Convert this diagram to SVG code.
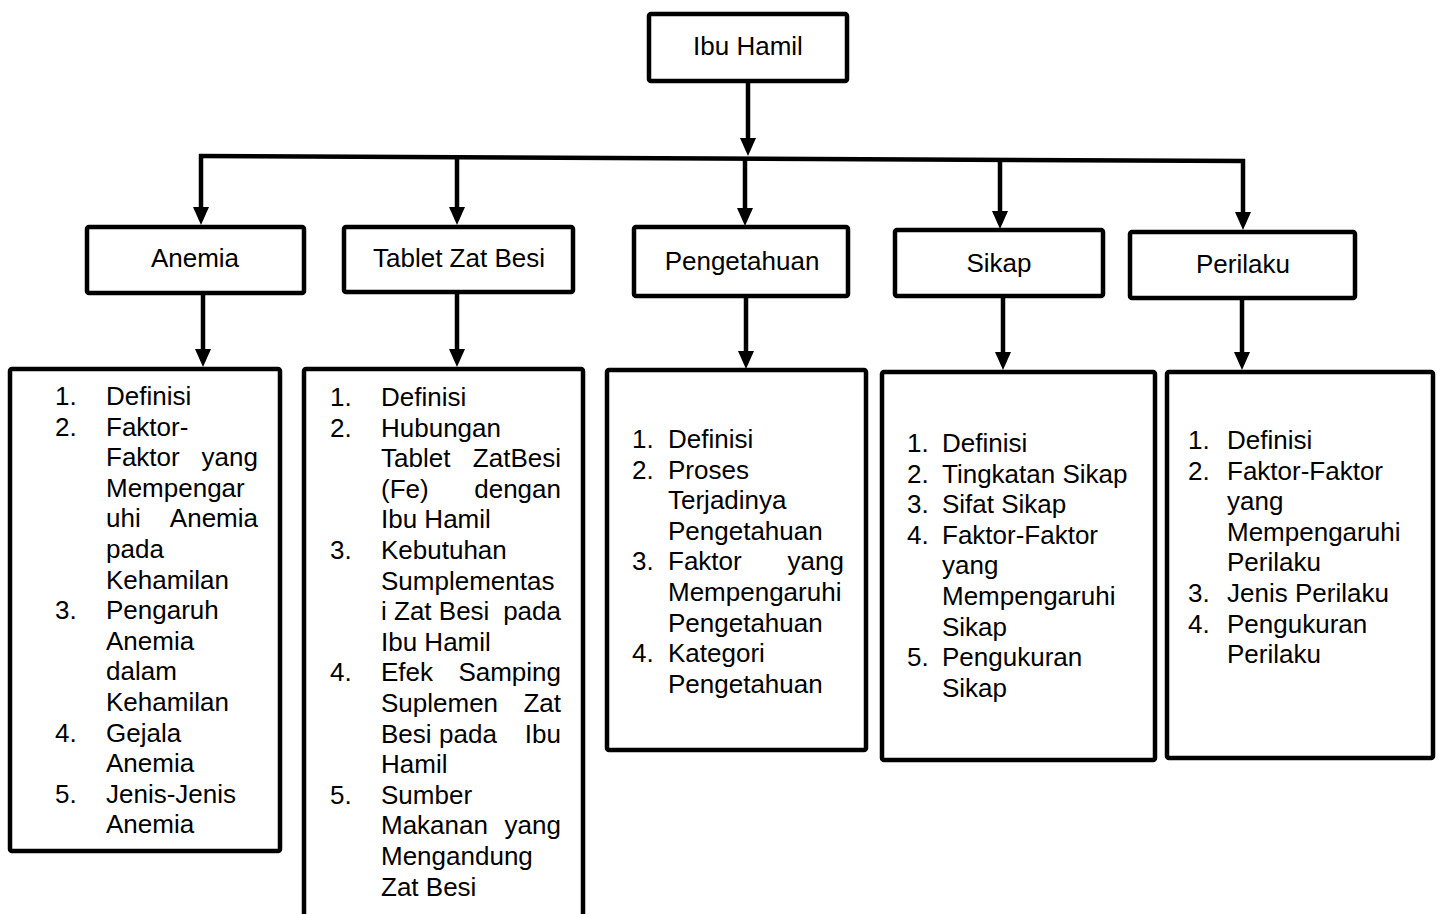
<svg xmlns="http://www.w3.org/2000/svg" width="1440" height="914" viewBox="0 0 1440 914">
<defs>
<style>
.box{fill:#fff;stroke:#000;stroke-width:4.5;}
.t{font-family:"Liberation Sans",Arial,sans-serif;font-size:26px;fill:#000;}
.c{text-anchor:middle;}
.e{text-anchor:end;}
.ln{fill:none;stroke:#000;stroke-width:4.5;}
</style>
<marker id="ah" markerUnits="userSpaceOnUse" markerWidth="18" markerHeight="16" refX="5" refY="8" orient="auto" viewBox="0 0 18 16">
<path d="M0,0 L18,8 L0,16 z" fill="#000"/>
</marker>
</defs>
<rect width="1440" height="914" fill="#fff"/>

<g id="connectors">
<path class="ln" d="M199,156 L1245,161"/>
<line class="ln" x1="748" y1="81" x2="748" y2="143" marker-end="url(#ah)"/>
<line class="ln" x1="201" y1="154" x2="201" y2="212" marker-end="url(#ah)"/>
<line class="ln" x1="457" y1="157" x2="457" y2="212" marker-end="url(#ah)"/>
<line class="ln" x1="745" y1="158" x2="745" y2="213" marker-end="url(#ah)"/>
<line class="ln" x1="1000" y1="159" x2="1000" y2="216" marker-end="url(#ah)"/>
<line class="ln" x1="1243" y1="159" x2="1243" y2="217" marker-end="url(#ah)"/>
<line class="ln" x1="203" y1="293" x2="203" y2="354" marker-end="url(#ah)"/>
<line class="ln" x1="457" y1="292" x2="457" y2="354" marker-end="url(#ah)"/>
<line class="ln" x1="746" y1="296" x2="746" y2="356" marker-end="url(#ah)"/>
<line class="ln" x1="1003" y1="296" x2="1003" y2="357" marker-end="url(#ah)"/>
<line class="ln" x1="1242" y1="298" x2="1242" y2="357" marker-end="url(#ah)"/>
</g>

<g id="ibu-hamil">
<rect class="box" x="649" y="14" width="198" height="67" rx="2"/>
<text class="t c" x="748" y="55">Ibu Hamil</text>
</g>

<g id="anemia">
<rect class="box" x="87" y="227" width="217" height="66" rx="2"/>
<text class="t c" x="195" y="267">Anemia</text>
</g>

<g id="tablet-zat-besi">
<rect class="box" x="344" y="227" width="229" height="65" rx="2"/>
<text class="t c" x="459" y="267">Tablet Zat Besi</text>
</g>

<g id="pengetahuan">
<rect class="box" x="634" y="227" width="214" height="69" rx="2"/>
<text class="t c" x="742" y="270">Pengetahuan</text>
</g>

<g id="sikap">
<rect class="box" x="895" y="230" width="208" height="66" rx="2"/>
<text class="t c" x="999" y="272">Sikap</text>
</g>

<g id="perilaku">
<rect class="box" x="1130" y="232" width="225" height="66" rx="2"/>
<text class="t c" x="1243" y="273">Perilaku</text>
</g>

<g id="anemia-list">
<rect class="box" x="10" y="369" width="270" height="482" rx="2"/>
<text class="t" x="55" y="405">1.</text><text class="t" x="106" y="405">Definisi</text>
<text class="t" x="55" y="435.6">2.</text><text class="t" x="106" y="435.6">Faktor-</text>
<text class="t" x="106" y="466.2">Faktor</text><text class="t e" x="258" y="466.2">yang</text>
<text class="t" x="106" y="496.8">Mempengar</text>
<text class="t" x="106" y="527.4">uhi</text><text class="t e" x="258" y="527.4">Anemia</text>
<text class="t" x="106" y="558">pada</text>
<text class="t" x="106" y="588.6">Kehamilan</text>
<text class="t" x="55" y="619.2">3.</text><text class="t" x="106" y="619.2">Pengaruh</text>
<text class="t" x="106" y="649.8">Anemia</text>
<text class="t" x="106" y="680.4">dalam</text>
<text class="t" x="106" y="711">Kehamilan</text>
<text class="t" x="55" y="741.6">4.</text><text class="t" x="106" y="741.6">Gejala</text>
<text class="t" x="106" y="772.2">Anemia</text>
<text class="t" x="55" y="802.8">5.</text><text class="t" x="106" y="802.8">Jenis-Jenis</text>
<text class="t" x="106" y="833.4">Anemia</text>
</g>

<g id="tablet-list">
<rect class="box" x="304" y="369" width="279" height="580" rx="2"/>
<text class="t" x="330" y="406">1.</text><text class="t" x="381" y="406">Definisi</text>
<text class="t" x="330" y="436.6">2.</text><text class="t" x="381" y="436.6">Hubungan</text>
<text class="t" x="381" y="467.2">Tablet</text><text class="t e" x="561" y="467.2">ZatBesi</text>
<text class="t" x="381" y="497.8">(Fe)</text><text class="t e" x="561" y="497.8">dengan</text>
<text class="t" x="381" y="528.4">Ibu Hamil</text>
<text class="t" x="330" y="559">3.</text><text class="t" x="381" y="559">Kebutuhan</text>
<text class="t" x="381" y="589.6">Sumplementas</text>
<text class="t" x="381" y="620.2">i Zat Besi</text><text class="t e" x="561" y="620.2">pada</text>
<text class="t" x="381" y="650.8">Ibu Hamil</text>
<text class="t" x="330" y="681.4">4.</text><text class="t" x="381" y="681.4">Efek</text><text class="t e" x="561" y="681.4">Samping</text>
<text class="t" x="381" y="712">Suplemen</text><text class="t e" x="561" y="712">Zat</text>
<text class="t" x="381" y="742.6">Besi</text><text class="t" x="439" y="742.6">pada</text><text class="t e" x="561" y="742.6">Ibu</text>
<text class="t" x="381" y="773.2">Hamil</text>
<text class="t" x="330" y="803.8">5.</text><text class="t" x="381" y="803.8">Sumber</text>
<text class="t" x="381" y="834.4">Makanan</text><text class="t e" x="561" y="834.4">yang</text>
<text class="t" x="381" y="865">Mengandung</text>
<text class="t" x="381" y="895.6">Zat Besi</text>
</g>

<g id="pengetahuan-list">
<rect class="box" x="607" y="370" width="259" height="380" rx="2"/>
<text class="t" x="632" y="448">1.</text><text class="t" x="668" y="448">Definisi</text>
<text class="t" x="632" y="478.6">2.</text><text class="t" x="668" y="478.6">Proses</text>
<text class="t" x="668" y="509.2">Terjadinya</text>
<text class="t" x="668" y="539.8">Pengetahuan</text>
<text class="t" x="632" y="570.4">3.</text><text class="t" x="668" y="570.4">Faktor</text><text class="t e" x="844" y="570.4">yang</text>
<text class="t" x="668" y="601">Mempengaruhi</text>
<text class="t" x="668" y="631.6">Pengetahuan</text>
<text class="t" x="632" y="662.2">4.</text><text class="t" x="668" y="662.2">Kategori</text>
<text class="t" x="668" y="692.8">Pengetahuan</text>
</g>

<g id="sikap-list">
<rect class="box" x="882" y="372" width="273" height="388" rx="2"/>
<text class="t" x="907" y="452">1.</text><text class="t" x="942" y="452">Definisi</text>
<text class="t" x="907" y="482.6">2.</text><text class="t" x="942" y="482.6">Tingkatan Sikap</text>
<text class="t" x="907" y="513.2">3.</text><text class="t" x="942" y="513.2">Sifat Sikap</text>
<text class="t" x="907" y="543.8">4.</text><text class="t" x="942" y="543.8">Faktor-Faktor</text>
<text class="t" x="942" y="574.4">yang</text>
<text class="t" x="942" y="605">Mempengaruhi</text>
<text class="t" x="942" y="635.6">Sikap</text>
<text class="t" x="907" y="666.2">5.</text><text class="t" x="942" y="666.2">Pengukuran</text>
<text class="t" x="942" y="696.8">Sikap</text>
</g>

<g id="perilaku-list">
<rect class="box" x="1167" y="372" width="266" height="386" rx="2"/>
<text class="t" x="1188" y="449">1.</text><text class="t" x="1227" y="449">Definisi</text>
<text class="t" x="1188" y="479.6">2.</text><text class="t" x="1227" y="479.6">Faktor-Faktor</text>
<text class="t" x="1227" y="510.2">yang</text>
<text class="t" x="1227" y="540.8">Mempengaruhi</text>
<text class="t" x="1227" y="571.4">Perilaku</text>
<text class="t" x="1188" y="602">3.</text><text class="t" x="1227" y="602">Jenis Perilaku</text>
<text class="t" x="1188" y="632.6">4.</text><text class="t" x="1227" y="632.6">Pengukuran</text>
<text class="t" x="1227" y="663.2">Perilaku</text>
</g>
</svg>
